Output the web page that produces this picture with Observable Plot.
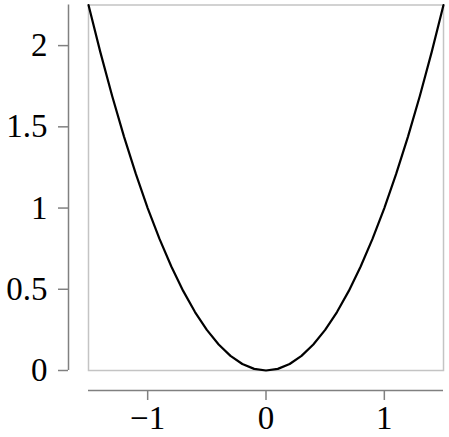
<!DOCTYPE html>
<html>
<head>
<meta charset="utf-8">
<script src="https://cdn.jsdelivr.net/npm/d3@7"></script>
<script src="https://cdn.jsdelivr.net/npm/@observablehq/plot@0.6"></script>
<style>
  html, body { margin: 0; padding: 0; background: #fff; }
</style>
</head>
<body>
<div id="chart"></div>
<script>
const xs = [-1.5, -1.4, -1.3, -1.2, -1.1, -1.0, -0.9, -0.8, -0.7, -0.6, -0.5, -0.4, -0.3, -0.2, -0.1, 0,
            0.1, 0.2, 0.3, 0.4, 0.5, 0.6, 0.7, 0.8, 0.9, 1.0, 1.1, 1.2, 1.3, 1.4, 1.5];
const ys = [2.25, 1.96, 1.69, 1.44, 1.21, 1.0, 0.81, 0.64, 0.49, 0.36, 0.25, 0.16, 0.09, 0.04, 0.01, 0,
            0.01, 0.04, 0.09, 0.16, 0.25, 0.36, 0.49, 0.64, 0.81, 1.0, 1.21, 1.44, 1.69, 1.96, 2.25];
const xTicks = [-1, 0, 1];
const xTickLabels = ["\u22121", "0", "1"];
const yTicks = [0, 0.5, 1, 1.5, 2];
const yTickLabels = ["0", "0.5", "1", "1.5", "2"];

const data = xs.map((x, i) => ({x, y: ys[i]}));

const axisColor = "#808080";
const chart = Plot.plot({
  width: 449,
  height: 437,
  marginLeft: 88,
  marginRight: 6,
  marginTop: 4.5,
  marginBottom: 67,
  style: {fontFamily: "'Liberation Serif', serif", fontSize: "33px", background: "#fff"},
  x: {domain: [-1.5, 1.5]},
  y: {domain: [0, 2.25]},
  marks: [
    Plot.frame({stroke: "#c4c4c4", strokeWidth: 1.5}),
    Plot.ruleX([-1.5], {dx: -20, stroke: axisColor, strokeWidth: 1.5}),
    Plot.ruleY([0], {dy: 20, stroke: axisColor, strokeWidth: 1.5}),
    Plot.axisY({ticks: yTicks, tickFormat: d => yTickLabels[yTicks.indexOf(d)], dx: -20, tickSize: 10, tickPadding: 11, stroke: axisColor, strokeWidth: 1.5, strokeOpacity: 1, color: "#000", fontSize: 33, label: null}),
    Plot.axisX({ticks: xTicks, tickFormat: d => xTickLabels[xTicks.indexOf(d)], dy: 20, tickSize: 10, tickPadding: 5, stroke: axisColor, strokeWidth: 1.5, strokeOpacity: 1, color: "#000", fontSize: 33, label: null}),
    Plot.line(data, {x: "x", y: "y", stroke: "#000", strokeWidth: 2.2})
  ]
});
document.getElementById("chart").appendChild(chart);
</script>
</body>
</html>
